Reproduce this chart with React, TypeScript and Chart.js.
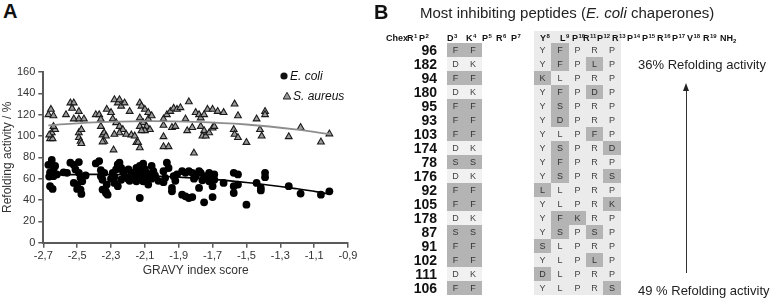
import React, { useEffect, useRef } from "react";
import { Chart, registerables } from "chart.js";
Chart.register(...registerables);

// ---------- Panel A data ----------
const ecoliGravy = [
  -2.67, -2.65, -2.66, -2.64, -2.63, -2.665, -2.64, -2.62, -2.66, -2.645,
  -2.56, -2.54, -2.52, -2.49, -2.51, -2.49, -2.48, -2.47, -2.5, -2.5, -2.48, -2.475, -2.52,
  -2.39, -2.37, -2.36, -2.36, -2.35, -2.34, -2.35, -2.33, -2.325, -2.33, -2.32,
  -2.29, -2.28, -2.27, -2.26, -2.25, -2.24, -2.23, -2.22, -2.24, -2.28, -2.26,
  -2.197, -2.18, -2.17, -2.15, -2.13, -2.12, -2.11, -2.09, -2.13, -2.15, -2.11, -2.08, -2.13, -2.09, -2.06, -2.05, -2.07,
  -1.99, -1.98, -1.97, -1.96, -1.99, -1.94, -1.94, -1.93, -1.91,
  -1.88, -1.86, -1.84, -1.82, -1.88, -1.86, -1.84, -1.82, -1.8, -1.78, -1.78, -1.77,
  -1.75, -1.74, -1.72, -1.72, -1.75, -1.7, -1.7, -1.69, -1.69, -1.635,
  -1.575, -1.55, -1.575, -1.575, -1.55, -1.5, -1.44, -1.415, -1.415, -1.39, -1.39,
  -1.25, -1.18, -1.06, -1.01,
  -2.2, -2.16, -2.1, -2.04, -2.02, -2.19, -2.14, -2.06, -1.92, -1.76, -1.81, -1.73, -2.3, -2.45, -2.58,
];
const ecoliRefolding = [
  73, 77.5, 66, 68.5, 72, 62, 62.4, 64, 53, 50.4,
  65.5, 75, 73, 75.6, 68.7, 65.5, 60.8, 57.6, 54.5, 50.4, 49.8, 45.7, 56,
  74.3, 76.5, 68, 62.4, 59, 65.5, 49.8, 48.2, 54.5, 46.6, 45,
  65.5, 61.7, 68.7, 73.4, 75, 70.2, 67, 62.4, 59, 56, 53,
  68.7, 65.5, 62.4, 70, 72, 67, 74, 65.5, 62.4, 57.6, 57.6, 54.5, 41.9, 60.8, 72, 67, 62.4,
  67, 60.8, 75, 70, 56.7, 51.3, 48.2, 62.4, 64,
  67, 65.5, 67, 65.5, 45, 43.5, 41.9, 42.8, 62.4, 67, 51.3, 65.5,
  60.8, 62.4, 65.5, 57.6, 37.8, 53, 42.8, 64, 59, 56,
  65.5, 64, 53, 46.6, 54.5, 35.6, 56, 51.3, 49, 65.5, 61.4,
  53, 46, 45, 48.2,
  60, 66, 69, 63, 58, 58, 64.5, 60, 58, 58.5, 60, 61, 60, 63, 66,
];
const aureusGravy = [
  -2.67, -2.655, -2.64, -2.66, -2.645, -2.65, -2.63, -2.665, -2.64,
  -2.566, -2.54, -2.52, -2.53, -2.52, -2.49, -2.49, -2.46, -2.49, -2.49, -2.48, -2.475, -2.475,
  -2.39, -2.37, -2.36, -2.36, -2.35, -2.34, -2.33, -2.34, -2.35,
  -2.325, -2.3, -2.28, -2.26, -2.25, -2.24, -2.22,
  -2.29, -2.27, -2.25, -2.23, -2.25, -2.28, -2.21, -2.285,
  -2.19, -2.18, -2.16, -2.15, -2.14, -2.13,
  -2.13, -2.12, -2.1, -2.08, -2.13, -2.11, -2.09, -2.07, -2.1, -2.13, -2.08, -2.06, -2.12,
  -1.99, -1.99, -1.99, -1.97, -1.95, -1.93, -1.91, -1.94, -1.92, -1.89, -1.99, -1.96,
  -1.86, -1.84, -1.85, -1.82, -1.8, -1.78, -1.77, -1.75, -1.81,
  -1.77, -1.75, -1.76, -1.74, -1.72, -1.7, -1.69,
  -1.73, -1.7, -1.67, -1.635,
  -1.57, -1.55, -1.575, -1.57, -1.55,
  -1.5, -1.44, -1.42, -1.41, -1.39, -1.39,
  -1.25, -1.18, -1.06, -1.01,
];
const aureusRefolding = [
  120, 125, 119, 97.5, 97.5, 103, 106, 101, 109,
  120, 131, 131, 126, 116, 123, 116, 116, 103, 98.5, 95, 93, 106,
  120, 120, 115.6, 109, 101, 103, 100, 95, 94.5,
  125, 122, 134, 131, 134, 128, 131,
  116, 112.5, 109, 106, 103, 101.6, 101.6, 87,
  123, 101, 100, 94, 94, 89,
  131, 128, 125, 122, 117, 112.5, 109, 106, 105, 109, 116, 119, 105,
  116, 110, 99.4, 120, 123, 126, 125, 108, 109, 126.6, 90, 90,
  116, 132, 105, 108, 122, 120, 117, 120, 84,
  109, 105, 100, 100, 103, 107.5, 109,
  125, 125, 123, 122,
  130, 119, 106, 101.6, 98.5,
  94, 116, 106, 100, 123, 120,
  99.4, 108, 94.4, 102,
];
const trendGravy = [-2.67, -2.4, -2.1, -1.8, -1.5, -1.2, -1.0];
const ecoliTrendRefolding = [63.5, 64, 63, 60.5, 56.5, 50.5, 45.5];
const aureusTrendRefolding = [110, 112.7, 114, 113.3, 110.8, 106, 101.5];
const xTickValues = [-2.7, -2.5, -2.3, -2.1, -1.9, -1.7, -1.5, -1.3, -1.1, -0.9];
const xTickLabels = ["-2,7", "-2,5", "-2,3", "-2,1", "-1,9", "-1,7", "-1,5", "-1,3", "-1,1", "-0,9"];
const seriesNames = ["E. coli", "S. aureus"];

// ---------- Panel B data ----------
const chexIds = [96, 182, 94, 180, 95, 93, 103, 174, 78, 176, 92, 105, 178, 87, 91, 102, 111, 106];
const residue3 = ["F","D","F","D","F","F","F","D","S","D","F","F","D","S","F","F","D","F"];
const residue4 = ["F","K","F","K","F","F","F","K","S","K","F","F","K","S","F","F","K","F"];
const residue8 = ["Y","Y","K","Y","Y","Y","Y","Y","Y","Y","L","Y","Y","Y","S","Y","D","Y"];
const residue9 = ["F","F","L","F","S","D","L","S","F","S","L","L","F","S","L","L","L","L"];
const residue10 = ["P","P","P","P","P","P","P","P","P","P","P","P","K","P","P","P","P","P"];
const residue11 = ["R","L","R","D","R","R","F","R","R","R","R","R","R","S","R","L","R","R"];
const residue12 = ["P","P","P","P","P","P","P","D","P","S","P","K","P","P","P","P","P","S"];
const wildTypeShown = ["D", "K", "Y", "L", "P", "R", "P"];
const headerResidues = ["R","P","D","K","P","R","P","Y","L","P","R","P","R","P","P","R","P","V","R"];

// layout (not data)
const headerLeft = [407, 419, 447, 466, 482, 496, 511, 540, 560, 572, 583, 597, 612, 627, 642, 657, 672, 687, 703];
const colCenter = [455.5, 473, 542.5, 560, 577.5, 594.5, 612];
const CELL_W = 17.5;
const ROW_TOP = 43;
const ROW_H = 14;

const FONT = "'Liberation Sans', Arial, Helvetica, sans-serif";

const legendPlugin = {
  id: "insideLegend",
  afterDraw(chart: any) {
    const ctx = chart.ctx;
    ctx.save();
    ctx.font = `italic 12px ${FONT}`;
    ctx.textBaseline = "middle";
    ctx.fillStyle = "#111";
    ctx.beginPath();
    ctx.arc(284, 76, 3.6, 0, Math.PI * 2);
    ctx.fill();
    ctx.fillText(seriesNames[0], 290, 76.5);
    ctx.beginPath();
    ctx.moveTo(287, 92.3);
    ctx.lineTo(290.8, 99);
    ctx.lineTo(283.2, 99);
    ctx.closePath();
    ctx.fillStyle = "#9a9a9a";
    ctx.fill();
    ctx.strokeStyle = "#222";
    ctx.lineWidth = 1;
    ctx.stroke();
    ctx.fillStyle = "#111";
    ctx.fillText(seriesNames[1], 293, 96.5);
    ctx.restore();
  },
};

function PanelA() {
  const ref = useRef<HTMLCanvasElement | null>(null);
  useEffect(() => {
    if (!ref.current) return;
    const toPts = (xs: number[], ys: number[]) => xs.map((x, i) => ({ x, y: ys[i] }));
    const axisColor = "#5a5a5a";
    const chart = new Chart(ref.current, {
      type: "scatter",
      data: {
        datasets: [
          {
            label: "E. coli trend",
            data: toPts(trendGravy, ecoliTrendRefolding),
            showLine: true,
            borderColor: "#000",
            borderWidth: 1.6,
            pointRadius: 0,
            tension: 0.4,
            order: 0,
          },
          {
            label: "S. aureus trend",
            data: toPts(trendGravy, aureusTrendRefolding),
            showLine: true,
            borderColor: "#8e8e8e",
            borderWidth: 1.8,
            pointRadius: 0,
            tension: 0.4,
            order: 0,
          },
          {
            label: seriesNames[0],
            data: toPts(ecoliGravy, ecoliRefolding),
            pointStyle: "circle",
            pointRadius: 3.9,
            backgroundColor: "#000",
            borderColor: "#000",
            borderWidth: 0,
            order: 1,
          },
          {
            label: seriesNames[1],
            data: toPts(aureusGravy, aureusRefolding),
            pointStyle: "triangle",
            pointRadius: 3.9,
            backgroundColor: "#9a9a9a",
            borderColor: "#1a1a1a",
            borderWidth: 1.1,
            order: 1,
          },
        ],
      },
      options: {
        animation: false,
        responsive: false,
        devicePixelRatio: 1,
        layout: { padding: { left: 0, right: 32, top: 72, bottom: 20 } },
        plugins: { legend: { display: false }, tooltip: { enabled: false } },
        scales: {
          x: {
            type: "linear",
            min: -2.7,
            max: -0.9,
            afterBuildTicks: (scale: any) => {
              scale.ticks = xTickValues.map((v) => ({ value: v }));
            },
            afterFit: (scale: any) => {
              scale.height = 37.3;
            },
            ticks: {
              font: { family: FONT, size: 11 },
              color: "#333",
              padding: 2,
              maxRotation: 0,
              autoSkip: false,
              callback: (_v: any, i: number) => xTickLabels[i],
            },
            grid: {
              drawOnChartArea: false,
              drawTicks: true,
              tickLength: 5,
              color: axisColor,
              lineWidth: 1.5,
            },
            border: { color: axisColor, width: 2 },
            title: {
              display: true,
              text: "GRAVY index score",
              font: { family: FONT, size: 12 },
              color: "#333",
              padding: { top: 4, bottom: 2 },
            },
          },
          y: {
            min: 0,
            max: 160,
            afterFit: (scale: any) => {
              scale.width = 43.3;
            },
            ticks: {
              stepSize: 20,
              font: { family: FONT, size: 11 },
              color: "#333",
              padding: 3,
            },
            grid: {
              drawOnChartArea: false,
              drawTicks: true,
              tickLength: 5,
              color: axisColor,
              lineWidth: 1.5,
            },
            border: { color: axisColor, width: 2 },
            title: {
              display: true,
              text: "Refolding activity / %",
              font: { family: FONT, size: 12 },
              color: "#333",
              padding: { top: 0, bottom: 0 },
            },
          },
        },
      },
      plugins: [legendPlugin],
    } as any);
    return () => chart.destroy();
  }, []);
  return <canvas ref={ref} width={380} height={300} style={{ position: "absolute", left: 0, top: 0, width: 380, height: 300 }} />;
}

function PanelB() {
  const columns = [residue3, residue4, residue8, residue9, residue10, residue11, residue12];
  const cells: React.ReactNode[] = [];
  chexIds.forEach((id, r) => {
    const top = ROW_TOP + r * ROW_H;
    cells.push(
      <div key={`id${r}`} style={{ position: "absolute", left: 400, width: 37, top, height: ROW_H, lineHeight: `${ROW_H}px`, textAlign: "right", fontWeight: "bold", fontSize: 14, color: "#111" }}>
        {id}
      </div>
    );
    columns.forEach((col, c) => {
      const v = col[r];
      const mutated = v !== wildTypeShown[c];
      cells.push(
        <div
          key={`c${r}-${c}`}
          style={{
            position: "absolute",
            left: colCenter[c] - CELL_W / 2,
            width: CELL_W,
            top,
            height: ROW_H,
            lineHeight: `${ROW_H}px`,
            textAlign: "center",
            fontSize: 9,
            color: mutated ? "#333" : "#444",
            background: mutated ? "#b4b4b4" : "transparent",
          }}
        >
          {v}
        </div>
      );
    });
  });
  return (
    <>
      <div style={{ position: "absolute", left: 447, width: 35, top: ROW_TOP, height: ROW_H * chexIds.length, background: "#f1f1f1" }} />
      <div style={{ position: "absolute", left: 534, width: 87, top: 31, height: ROW_TOP - 31 + ROW_H * chexIds.length, background: "#ebebeb" }} />
      <div style={{ position: "absolute", left: 374, top: 0, fontSize: 20, fontWeight: "bold", color: "#111", lineHeight: "24px" }}>B</div>
      <div style={{ position: "absolute", left: 420, top: 3, fontSize: 15, color: "#222", lineHeight: "20px", whiteSpace: "nowrap" }}>
        Most inhibiting peptides (<i>E. coli</i> chaperones)
      </div>
      <div style={{ position: "absolute", left: 386, top: 32, fontSize: 9, fontWeight: "bold", color: "#111", lineHeight: "12px" }}>Chex</div>
      {headerResidues.map((res, i) => (
        <div key={`h${i}`} style={{ position: "absolute", left: headerLeft[i], top: 32, fontSize: 9, fontWeight: "bold", color: "#111", lineHeight: "12px", whiteSpace: "nowrap" }}>
          {res}
          <span style={{ fontSize: 6, position: "relative", top: -3, marginLeft: 0.5 }}>{i + 1}</span>
        </div>
      ))}
      <div style={{ position: "absolute", left: 720, top: 32, fontSize: 9, fontWeight: "bold", color: "#111", lineHeight: "12px", whiteSpace: "nowrap" }}>
        NH<span style={{ fontSize: 6, position: "relative", top: 2 }}>2</span>
      </div>
      {cells}
      <div style={{ position: "absolute", left: 638, top: 57, fontSize: 13, color: "#222", lineHeight: "16px", whiteSpace: "nowrap" }}>36% Refolding activity</div>
      <div style={{ position: "absolute", left: 638, top: 283, fontSize: 13, color: "#222", lineHeight: "16px", whiteSpace: "nowrap" }}>49 % Refolding activity</div>
      <div style={{ position: "absolute", left: 685.5, top: 90, width: 1, height: 183, background: "#333" }} />
      <div style={{ position: "absolute", left: 683, top: 83, width: 0, height: 0, borderLeft: "3px solid transparent", borderRight: "3px solid transparent", borderBottom: "8px solid #222" }} />
    </>
  );
}

export default function App() {
  return (
    <div style={{ position: "fixed", left: 0, top: 0, width: 782, height: 300, background: "#fff", fontFamily: FONT, overflow: "hidden" }}>
      <div style={{ position: "absolute", left: 3, top: 0, fontSize: 20, fontWeight: "bold", color: "#111", lineHeight: "22px" }}>A</div>
      <PanelA />
      <PanelB />
    </div>
  );
}
